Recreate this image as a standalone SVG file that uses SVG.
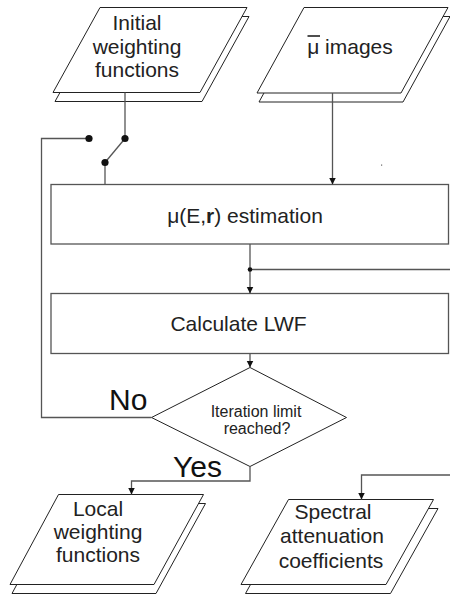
<svg xmlns="http://www.w3.org/2000/svg" width="450" height="598" viewBox="0 0 450 598">
<style>
.para{fill:#fff;stroke:#222;stroke-width:1}
.box{fill:#fff;stroke:#555;stroke-width:1.3}
.conn{fill:none;stroke:#555;stroke-width:1.3}
.t{font-family:"Liberation Sans",Arial,sans-serif;fill:#222;text-anchor:middle}
.big{font-size:21px}
.lab{font-family:"Liberation Sans",Arial,sans-serif;fill:#111;font-size:30px}
</style>
<defs>
<marker id="arr" viewBox="0 0 10 10" refX="10" refY="5" markerWidth="7" markerHeight="8" markerUnits="userSpaceOnUse" orient="auto">
<path d="M0,0 L10,5 L0,10 z" fill="#111"/>
</marker>
</defs>
<rect width="450" height="598" fill="#fff"/>

<g id="initial">
<polygon class="para" points="102,16.5 249,16.5 202,101.5 55,101.5"/>
<polygon class="para" points="100,7.5 247,7.5 200,92.5 53,92.5"/>
<text class="t big"><tspan x="137" y="30">Initial</tspan><tspan x="137" y="53.5">weighting</tspan><tspan x="137" y="77">functions</tspan></text>
</g>

<g id="mu-images">
<polygon class="para" points="306,16.5 450,16.5 403,102 259,102"/>
<polygon class="para" points="304,7.5 448,7.5 401,93 257,93"/>
<text class="t big" x="350" y="54">μ images</text>
<line x1="307.5" y1="36" x2="320" y2="36" stroke="#222" stroke-width="1.6"/>
</g>

<g id="estimation">
<rect class="box" x="51" y="184.5" width="397.5" height="59.5"/>
<text class="t big" x="245" y="223">μ(E,<tspan font-weight="bold">r</tspan>) estimation</text>
</g>

<g id="calculate">
<rect class="box" x="51" y="293.5" width="397.5" height="60"/>
<text class="t big" x="238.5" y="331">Calculate LWF</text>
</g>

<g id="decision">
<polygon class="para" points="250,367.5 346.5,417.5 250,466.5 151.5,417.5"/>
<text class="t" font-size="16"><tspan x="256" y="416.5">Iteration limit</tspan><tspan x="257" y="434">reached?</tspan></text>
</g>

<g id="local">
<polygon class="para" points="60.5,503.5 205.5,503.5 156,593.5 12,593.5"/>
<polygon class="para" points="58.5,494.5 203.5,494.5 154,584.5 10,584.5"/>
<text class="t big"><tspan x="98" y="516">Local</tspan><tspan x="98" y="539">weighting</tspan><tspan x="98" y="562">functions</tspan></text>
</g>

<g id="spectral">
<polygon class="para" points="293,508.5 438,508.5 390.5,593.5 245.5,593.5"/>
<polygon class="para" points="288.5,499.5 433.5,499.5 386,584.5 241,584.5"/>
<text class="t big"><tspan x="333" y="519">Spectral</tspan><tspan x="332" y="543">attenuation</tspan><tspan x="331" y="567.5">coefficients</tspan></text>
</g>

<g id="connectors">
<polyline class="conn" points="125,92.5 125,138.5"/>
<line class="conn" x1="125" y1="138.5" x2="105" y2="162.5"/>
<polyline class="conn" points="105,162.5 105,184.5"/>
<polyline class="conn" points="89,138.5 41.5,138.5 41.5,417.5 151.5,417.5"/>
<circle cx="125" cy="138.5" r="3.6" fill="#111"/>
<circle cx="89" cy="138.5" r="3.6" fill="#111"/>
<circle cx="105" cy="162.5" r="3.6" fill="#111"/>
<line class="conn" x1="332.5" y1="93" x2="332.5" y2="184.5" marker-end="url(#arr)"/>
<rect x="381" y="164.5" width="1.2" height="1.2" fill="#666"/>
<line class="conn" x1="250" y1="244" x2="250" y2="293.5" marker-end="url(#arr)"/>
<line class="conn" x1="250" y1="269.5" x2="450" y2="269.5"/>
<circle cx="250" cy="269.5" r="2.3" fill="#111"/>
<line class="conn" x1="250" y1="353.5" x2="250" y2="367.5" marker-end="url(#arr)"/>
<polyline class="conn" points="250,466.5 250,481 131.5,481 131.5,494.5" marker-end="url(#arr)"/>
<polyline class="conn" points="450,475 361.5,475 361.5,499.5" marker-end="url(#arr)"/>
</g>

<text class="lab" x="109" y="410">No</text>
<text class="lab" x="173" y="476.5">Yes</text>
</svg>
